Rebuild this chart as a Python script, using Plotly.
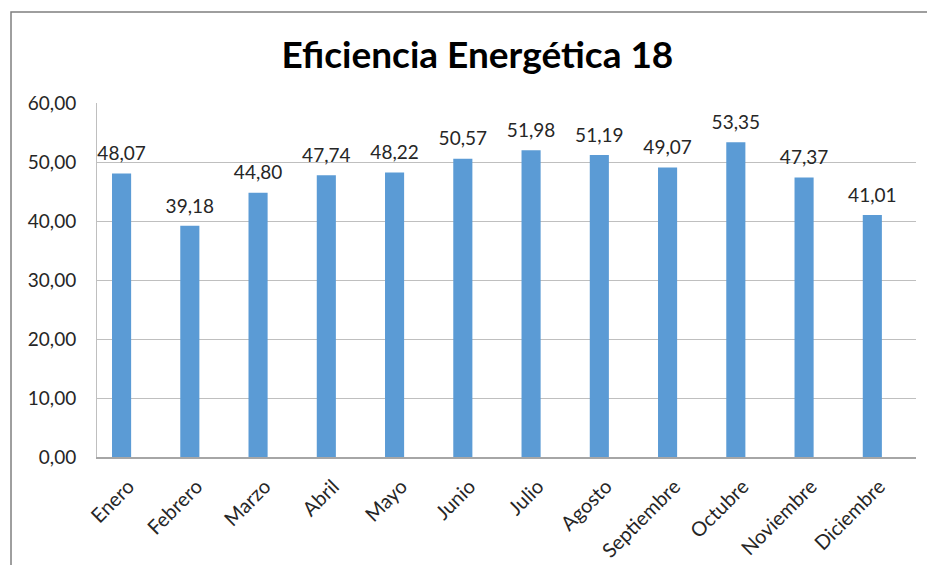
import plotly.graph_objects as go

meses = ['Enero', 'Febrero', 'Marzo', 'Abril', 'Mayo', 'Junio', 'Julio',
         'Agosto', 'Septiembre', 'Octubre', 'Noviembre', 'Diciembre']
eficiencia = [48.07, 39.18, 44.80, 47.74, 48.22, 50.57, 51.98,
              51.19, 49.07, 53.35, 47.37, 41.01]
y_ticks = [0, 10, 20, 30, 40, 50, 60]

fuente = 'Lato'
texto = '#262626'
etiquetas = [f'{v:.2f}'.replace('.', ',') for v in eficiencia]

fig = go.Figure()
fig.add_bar(x=meses, y=eficiencia, marker_color='#5B9BD5', marker_line_width=0,
            hoverinfo='skip')
# etiquetas de datos un poco separadas de la barra
fig.add_scatter(x=meses, y=eficiencia, mode='markers+text', text=etiquetas,
                textposition='top center',
                marker=dict(size=12, opacity=0),
                textfont=dict(size=19, color=texto, family=fuente),
                cliponaxis=False, hoverinfo='skip')

fig.update_xaxes(range=[-0.36, 11.64], tickangle=-45,
                 tickfont=dict(size=20, color=texto, family=fuente),
                 showline=True, linecolor='#A6A6A6', linewidth=2, ticks='',
                 ticklabelstandoff=8, ticklabelshift=7, automargin=False)
fig.update_yaxes(range=[0, 60], tickvals=y_ticks, tickformat='.2f',
                 tickfont=dict(size=19, color=texto, family=fuente),
                 showgrid=True, gridcolor='#BFBFBF', gridwidth=1,
                 showline=True, linecolor='#BFBFBF', linewidth=1,
                 zeroline=False, ticks='', ticklabelstandoff=16, automargin=False)

# marco del grafico (solo borde izquierdo y superior visibles)
fig.add_shape(type='rect', xref='paper', yref='paper',
              x0=-0.105, x1=1.02, y0=-0.45, y1=1.257,
              line=dict(color='#7F7F7F', width=1.5), fillcolor='rgba(0,0,0,0)')

fig.update_layout(
    width=927, height=565,
    separators=',.',
    bargap=0.72,
    title=dict(text='<b>Eficiencia Energética 18</b>', x=0.515, xanchor='center',
               y=0.903, yanchor='middle', yref='container',
               font=dict(size=37, color='#000000', family=fuente)),
    plot_bgcolor='white', paper_bgcolor='white',
    margin=dict(l=97, r=11, t=103, b=108),
    showlegend=False,
)

fig.write_html('out.html', config={'displayModeBar': False},
               post_script="document.body.style.margin='0';")
